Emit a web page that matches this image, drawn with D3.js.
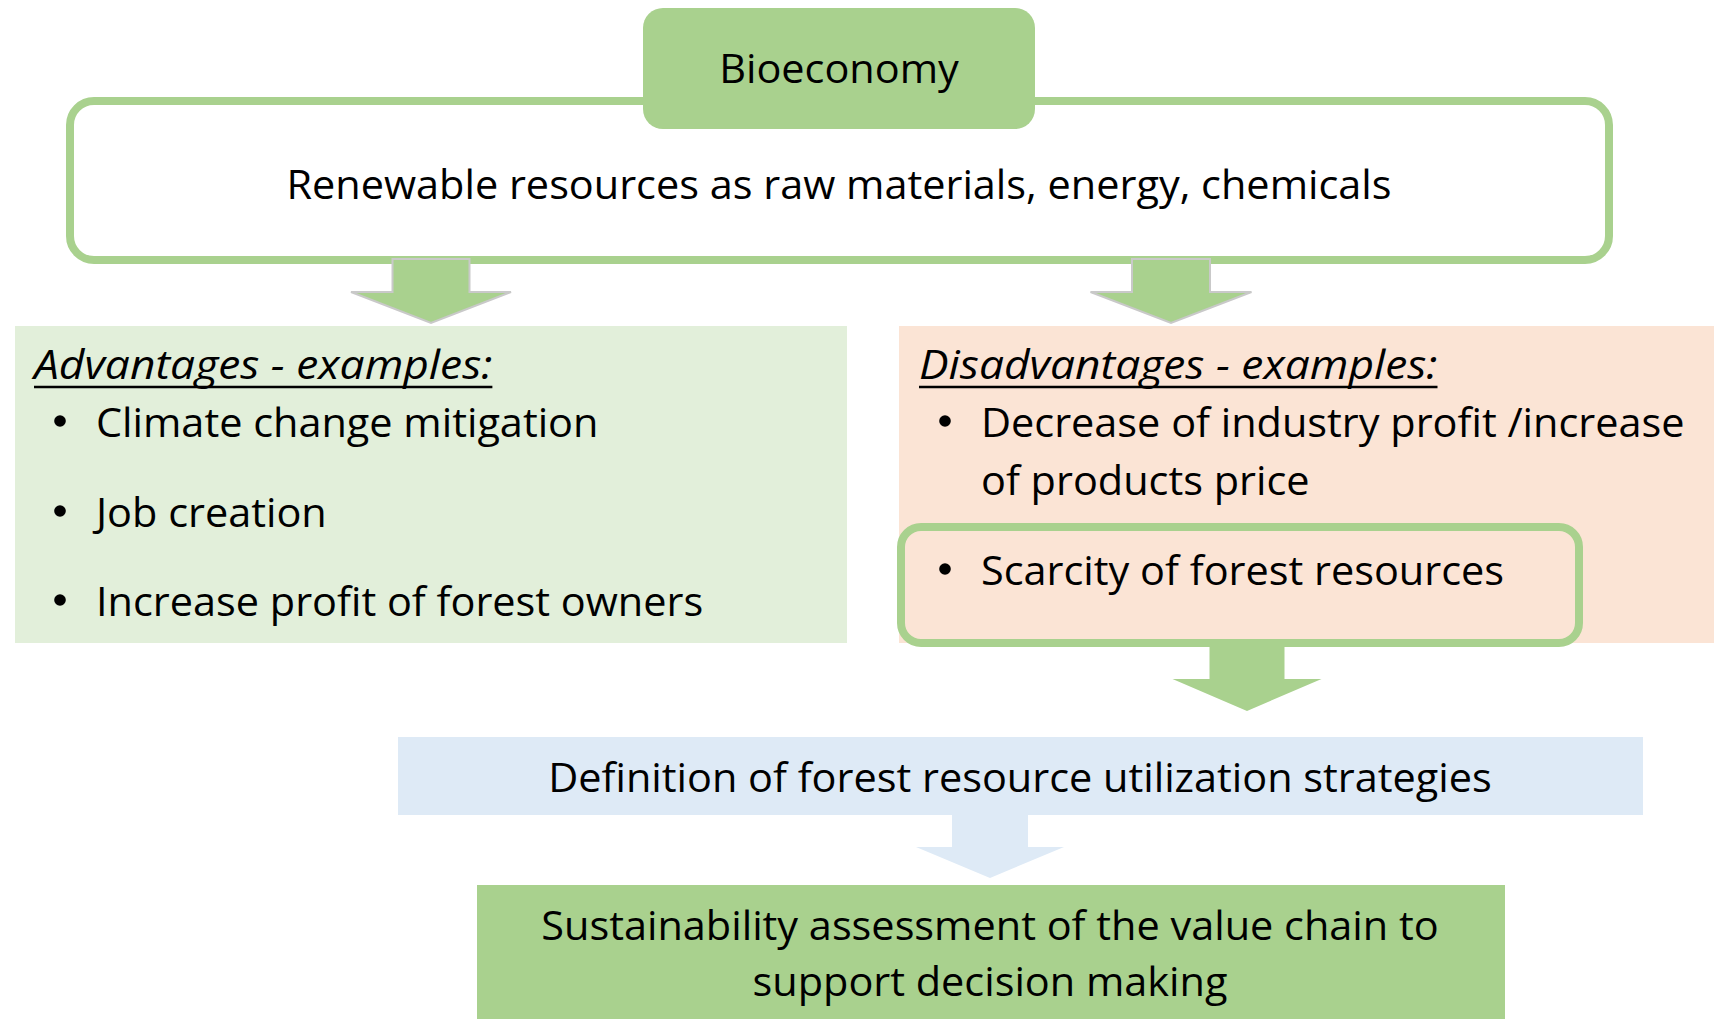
<!DOCTYPE html>
<html>
<head>
<meta charset="utf-8">
<script src="https://cdn.jsdelivr.net/npm/d3@7"></script>
<style>
  html, body { margin: 0; padding: 0; background: #fff; }
  svg text { font-family: "Open Sans", Lato, sans-serif; fill: #000; }
</style>
</head>
<body>
<div id="chart"></div>
<script>
// diagram texts
var titleText = "Bioeconomy";
var scopeText = "Renewable resources as raw materials, energy, chemicals";
var advHeading = "Advantages - examples:";
var advantages = ["Climate change mitigation", "Job creation", "Increase profit of forest owners"];
var disHeading = "Disadvantages - examples:";
var disadvantages = [["Decrease of industry profit /increase", "of products price"], ["Scarcity of forest resources"]];
var strategyText = "Definition of forest resource utilization strategies";
var assessmentLines = ["Sustainability assessment of the value chain to", "support decision making"];

var width = 1714, height = 1019;
var green = "#a9d18e", lightGreen = "#e2efda", peach = "#fbe4d5", lightBlue = "#deeaf6";
var fontSize = 41;

var svg = d3.select("#chart").append("svg")
  .attr("width", width)
  .attr("height", height);

// boxes
var layout = {
  scope:    { x: 70,  y: 101, w: 1539, h: 159, r: 24 },
  title:    { x: 643, y: 8,   w: 392,  h: 121, r: 20 },
  adv:      { x: 15,  y: 326, w: 832,  h: 317 },
  dis:      { x: 899, y: 326, w: 815,  h: 317 },
  scarce:   { x: 901, y: 527, w: 678,  h: 116, r: 20 },
  strategy: { x: 398, y: 737, w: 1245, h: 78 },
  assess:   { x: 477, y: 885, w: 1028, h: 150 }
};

function box(b, fill, stroke, sw) {
  svg.append("rect")
    .attr("x", b.x).attr("y", b.y)
    .attr("width", b.w).attr("height", b.h)
    .attr("rx", b.r || 0).attr("ry", b.r || 0)
    .attr("fill", fill)
    .attr("stroke", stroke || "none")
    .attr("stroke-width", sw || 0);
}

box(layout.adv, lightGreen);
box(layout.dis, peach);
box(layout.scope, "#fff", green, 8);
box(layout.title, green);
box(layout.strategy, lightBlue);
box(layout.assess, green);
box(layout.scarce, peach, green, 8);

// block arrows
function blockArrow(a, fill, stroke) {
  var s = a.shaft / 2, hw = a.head / 2;
  var pts = [
    [a.cx - s, a.top], [a.cx + s, a.top], [a.cx + s, a.shoulder],
    [a.cx + hw, a.shoulder], [a.cx, a.tip], [a.cx - hw, a.shoulder],
    [a.cx - s, a.shoulder]
  ];
  svg.append("path")
    .attr("d", d3.line()(pts) + "Z")
    .attr("fill", fill)
    .attr("stroke", stroke || "none")
    .attr("stroke-width", stroke ? 2 : 0)
    .attr("stroke-linejoin", "miter");
}

blockArrow({ cx: 431,  top: 259, shoulder: 292, tip: 323, shaft: 77, head: 160 }, green, "#c9c9c9");
blockArrow({ cx: 1171, top: 259, shoulder: 292, tip: 323, shaft: 78, head: 161 }, green, "#c9c9c9");
blockArrow({ cx: 1247, top: 640, shoulder: 679, tip: 711, shaft: 75, head: 149 }, green);
blockArrow({ cx: 990,  top: 815, shoulder: 847, tip: 878, shaft: 76, head: 148 }, lightBlue);

// texts: squeeze the installed face so the scope line keeps its original width
var probe = svg.append("text").style("font-size", fontSize + "px").text(scopeText);
var squeeze = 1105 / probe.node().getComputedTextLength();
probe.remove();
var italicStretch = 1.07;

function label(txt, x, y, anchor, italic) {
  var t = svg.append("text")
    .attr("x", x).attr("y", y)
    .attr("text-anchor", anchor || "start")
    .style("font-size", fontSize + "px")
    .style("font-style", italic ? "italic" : "normal")
    .text(txt);
  var len = t.node().getComputedTextLength() * squeeze * (italic ? italicStretch : 1);
  t.attr("textLength", len).attr("lengthAdjust", "spacingAndGlyphs");
  return len;
}

function bullet(x, y) {
  svg.append("circle")
    .attr("cx", x).attr("cy", y - 16)
    .attr("r", 5.8)
    .attr("fill", "#000");
}

function heading(txt, x, y) {
  var len = label(txt, x, y, "start", true);
  svg.append("line")
    .attr("x1", x).attr("x2", x + len)
    .attr("y1", y + 8).attr("y2", y + 8)
    .attr("stroke", "#000").attr("stroke-width", 2.5);
}

label(titleText, 839, 83, "middle");
label(scopeText, 839, 199, "middle");

heading(advHeading, 34, 379);
var advBase = [437, 527, 616];
advantages.forEach(function(d, i) {
  bullet(60, advBase[i]);
  label(d, 96, advBase[i]);
});

heading(disHeading, 919, 379);
var disBase = [[437, 495], [585]];
disadvantages.forEach(function(lines, i) {
  bullet(945, disBase[i][0]);
  lines.forEach(function(l, j) {
    label(l, 981, disBase[i][j]);
  });
});

label(strategyText, 1020, 792, "middle");
label(assessmentLines[0], 990, 940, "middle");
label(assessmentLines[1], 990, 996, "middle");
</script>
</body>
</html>
